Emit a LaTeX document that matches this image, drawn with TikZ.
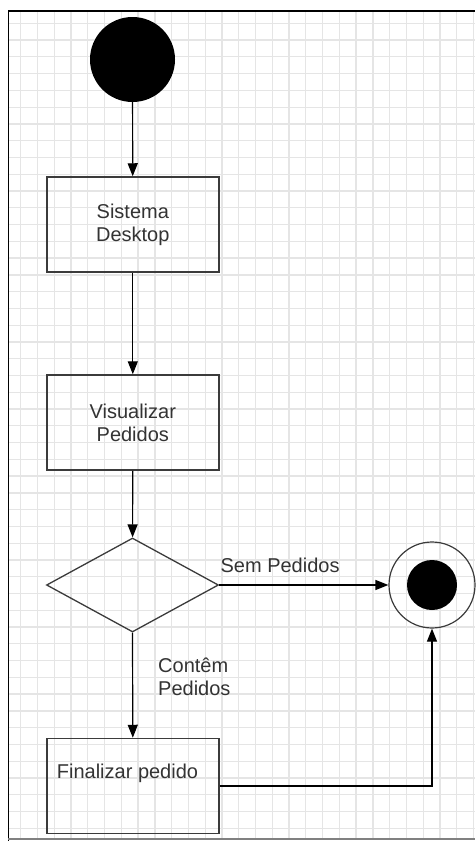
\documentclass[tikz,border=0pt]{standalone}
\usepackage{fontspec}
\setmainfont{Liberation Sans}
\usepackage{tikz}
\usetikzlibrary{shapes.geometric,arrows.meta}
\definecolor{grade}{rgb}{0.90,0.90,0.90}
\definecolor{borda}{rgb}{0.23,0.23,0.23}
\definecolor{letra}{rgb}{0.20,0.20,0.20}

\tikzset{
  atividade/.style={draw=borda, line width=1.5pt, rectangle, minimum width=172pt,
    minimum height=95pt, inner sep=0pt, align=center, text=letra,
    font=\fontsize{20}{23}\selectfont},
  decisao/.style={draw=borda, line width=1.3pt, diamond, minimum width=172pt,
    minimum height=94pt, inner sep=0pt},
  texto/.style={text=letra, font=\fontsize{20}{23}\selectfont, inner sep=0pt},
  fluxo/.style={line width=1.2pt, arrows={-{Triangle[length=13pt,width=10pt]}}}
}

\begin{document}
\begin{tikzpicture}[x=1pt,y=-1pt]
			\useasboundingbox (0,0) rectangle (475,841);
			% grade de fundo
			\foreach \i in {0,...,27}
				\draw[grade, line width=1.3pt] ({20.7+\i*16.77},11) -- ({20.7+\i*16.77},839);
			\foreach \j in {0,...,48}
				\draw[grade, line width=1.3pt] (8,{23.3+\j*16.77}) -- (475,{23.3+\j*16.77});
			\draw[line width=1.6pt] (8,11) -- (475,11);
			\draw[line width=1pt] (8,11) -- (8,841);
			\draw[gray, line width=1.5pt] (8,839) -- (475,839);

			\node[circle, fill=black, minimum size=85pt, inner sep=0pt] (inicio) at (132.5,59.5) {};
			\node[atividade] (sistema) at (132.8,224.5) {Sistema\\Desktop};
			\node[atividade] (visualizar) at (132.8,422.5) {Visualizar\\Pedidos};
			\node[decisao] (decisao) at (132.5,585) {};
			\node[circle, draw=borda, line width=1.2pt, minimum size=86pt, inner sep=0pt] (fim) at (432,585) {};
			\node[circle, fill=black, minimum size=50pt, inner sep=0pt] (fimmiolo) at (fim) {};
			\node[atividade] (finalizar) at (132.8,786) {};
			\node[texto] (finalizartxt) at (127.5,773) {Finalizar pedido};

			\draw[fluxo] (inicio) -- (sistema);
			\draw[fluxo] (sistema) -- (visualizar);
			\draw[fluxo] (visualizar) -- (decisao);
			\draw[fluxo] (decisao.east) -- (fim.west) node[texto, pos=0.36, above=12pt] (sem) {Sem Pedidos};
			\draw[fluxo] (decisao.south) -- (finalizar.north);
			\node[texto, anchor=west, align=left] (contem) at (158,676.5) {Contêm\\Pedidos};
			\draw[fluxo] (finalizar.east) -| (fim.south);
		\end{tikzpicture}
\end{document}
